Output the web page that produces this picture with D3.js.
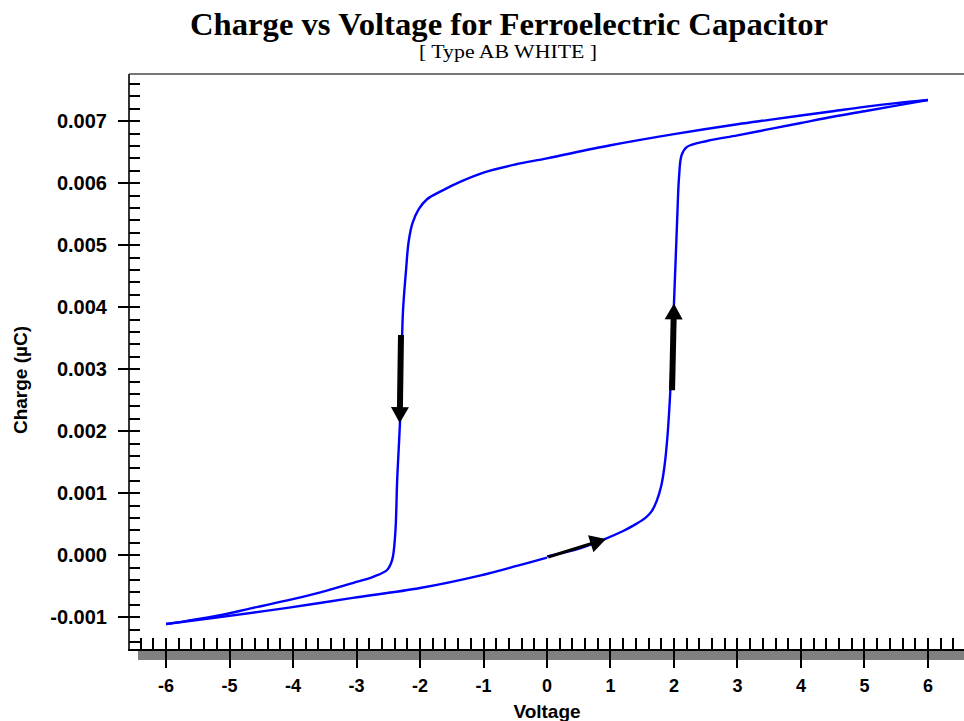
<!DOCTYPE html>
<head>
<meta charset="utf-8">
<title>Charge vs Voltage for Ferroelectric Capacitor</title>
<script src="https://d3js.org/d3.v7.min.js"></script>
<style>
body {
  margin: 0;
  background: #fff;
}
svg {
  display: block;
  font-family: "Liberation Sans", Arial, sans-serif;
}
.title {
  font-family: "Liberation Serif", "Times New Roman", serif;
  font-weight: bold;
}
.subtitle {
  font-family: "Liberation Serif", "Times New Roman", serif;
}
.tick-label, .axis-title {
  font-weight: bold;
  fill: #000;
}
.loop {
  fill: none;
  stroke: #0000ff;
  stroke-width: 2.4px;
}
</style>
</head>
<body>
<script>

// --- data (voltage in V, charge in µC) ---
// rising branch: 0 V -> +6 V
const risingV = [0, 0.52, 0.91, 1.20, 1.40, 1.55, 1.65, 1.73, 1.80, 1.85, 1.90, 1.95, 2.00, 2.05, 2.08, 2.12, 2.20, 2.52, 3.0, 3.5, 4.0, 4.5, 5.0, 5.5, 6.0];
const risingQ = [-0.00002, 0.00011, 0.00026, 0.00039, 0.00050, 0.00060, 0.00071, 0.00088, 0.00112, 0.00143, 0.00195, 0.00280, 0.00406, 0.00540, 0.00610, 0.00645, 0.00658, 0.00668, 0.00677, 0.00687, 0.00697, 0.00707, 0.00716, 0.00725, 0.00734];

// falling branch: +6 V -> -6 V
const fallingV = [6.0, 5.5, 5.0, 4.5, 4.0, 3.5, 3.0, 2.0, 1.0, 0, -0.5, -1.0, -1.37, -1.65, -1.89, -2.02, -2.12, -2.18, -2.22, -2.27, -2.31, -2.36, -2.39, -2.44, -2.52, -2.74, -3.06, -3.57, -4.09, -4.63, -5.15, -5.67, -6.0];
const fallingQ = [0.00734, 0.00729, 0.00723, 0.00716, 0.00709, 0.00702, 0.00695, 0.00679, 0.00661, 0.00640, 0.00630, 0.00617, 0.00602, 0.00588, 0.00574, 0.00558, 0.00535, 0.00505, 0.00460, 0.00390, 0.00229, 0.00121, 0.00035, -0.00008, -0.00024, -0.00035, -0.00045, -0.00060, -0.00073, -0.00085, -0.00097, -0.00106, -0.00111];

// return branch: -6 V -> 0 V
const returnV = [-6.0, -5.15, -4.09, -3.06, -2.0, -1.06, -0.43, 0];
const returnQ = [-0.00111, -0.00100, -0.00085, -0.00069, -0.00053, -0.00033, -0.00016, -0.00004];

// direction arrows [fromV, fromQ, toV, toQ, shaft width]
const arrows = [
  [-2.30, 0.00355, -2.32, 0.00213, 6],
  [1.97, 0.00266, 2.00, 0.00406, 6],
  [0.02, -0.00003, 0.93, 0.00026, 3]
];

const xTicks = [-6, -5, -4, -3, -2, -1, 0, 1, 2, 3, 4, 5, 6];
const yTicks = [-0.001, 0, 0.001, 0.002, 0.003, 0.004, 0.005, 0.006, 0.007];

const titleText = "Charge vs Voltage for Ferroelectric Capacitor";
const subtitleText = "[ Type AB WHITE ]";
const xTitle = "Voltage";
const yTitle = "Charge (\u00b5C)";

// --- layout ---
const width = 964,
  height = 721,
  plot = {left: 128, right: 966, top: 74, bottom: 650};

const x = d3.scaleLinear().domain([-6.6, 6.6]).range([plot.left, plot.right]);
const y = d3.scaleLinear().domain([-0.00153, 0.00776]).range([plot.bottom, plot.top]);

const svg = d3.select('body').append('svg')
  .attr('width', width)
  .attr('height', height);

// titles
svg.append('text')
  .attr('class', 'title')
  .attr('x', 509)
  .attr('y', 35)
  .attr('text-anchor', 'middle')
  .attr('textLength', 638)
  .attr('lengthAdjust', 'spacingAndGlyphs')
  .style('font-size', '32px')
  .text(titleText);

svg.append('text')
  .attr('class', 'subtitle')
  .attr('x', 508)
  .attr('y', 58)
  .attr('text-anchor', 'middle')
  .attr('textLength', 178)
  .attr('lengthAdjust', 'spacingAndGlyphs')
  .style('font-size', '19px')
  .text(subtitleText);

// frame
svg.append('line')
  .attr('x1', plot.left + 1).attr('x2', width)
  .attr('y1', plot.top).attr('y2', plot.top)
  .attr('stroke', '#777').attr('stroke-width', 2);

svg.append('rect')
  .attr('x', 138).attr('y', plot.bottom + 1)
  .attr('width', width - 138).attr('height', 9)
  .attr('fill', '#808080');

svg.append('line')
  .attr('x1', plot.left + 1).attr('x2', plot.left + 1)
  .attr('y1', plot.top).attr('y2', plot.bottom)
  .attr('stroke', '#333').attr('stroke-width', 2);

svg.append('line')
  .attr('x1', plot.left).attr('x2', width)
  .attr('y1', plot.bottom).attr('y2', plot.bottom)
  .attr('stroke', '#000').attr('stroke-width', 2);

// y ticks
const yMinor = d3.range(-14, 77, 2).map(d => d / 10000);
svg.append('g').selectAll('line')
  .data(yMinor)
  .join('line')
    .attr('x1', plot.left + 1)
    .attr('x2', plot.left + 12)
    .attr('y1', d => Math.round(y(d)))
    .attr('y2', d => Math.round(y(d)))
    .attr('stroke', '#000').attr('stroke-width', 2);

svg.append('g').selectAll('line')
  .data(yTicks)
  .join('line')
    .attr('x1', plot.left - 10)
    .attr('x2', plot.left + 12)
    .attr('y1', d => Math.round(y(d)))
    .attr('y2', d => Math.round(y(d)))
    .attr('stroke', '#000').attr('stroke-width', 2);

svg.append('g').selectAll('text')
  .data(yTicks)
  .join('text')
    .attr('class', 'tick-label')
    .attr('x', 107)
    .attr('y', d => y(d) + 7)
    .attr('text-anchor', 'end')
    .style('font-size', '20px')
    .text(d => d.toFixed(3));

// x ticks
const xMinor = d3.range(-32, 34).map(d => d / 5);
svg.append('g').selectAll('line')
  .data(xMinor)
  .join('line')
    .attr('x1', d => Math.round(x(d)))
    .attr('x2', d => Math.round(x(d)))
    .attr('y1', plot.bottom - 12)
    .attr('y2', plot.bottom)
    .attr('stroke', '#000').attr('stroke-width', 2);

svg.append('g').selectAll('line')
  .data(xTicks)
  .join('line')
    .attr('x1', d => Math.round(x(d)))
    .attr('x2', d => Math.round(x(d)))
    .attr('y1', plot.bottom - 12)
    .attr('y2', plot.bottom + 18)
    .attr('stroke', '#000').attr('stroke-width', 2);

svg.append('g').selectAll('text')
  .data(xTicks)
  .join('text')
    .attr('class', 'tick-label')
    .attr('x', d => x(d))
    .attr('y', 692)
    .attr('text-anchor', 'middle')
    .style('font-size', '18px')
    .text(d => String(d));

// axis titles
svg.append('text')
  .attr('class', 'axis-title')
  .attr('x', (plot.left + plot.right) / 2)
  .attr('y', 718)
  .attr('text-anchor', 'middle')
  .style('font-size', '19px')
  .text(xTitle);

svg.append('text')
  .attr('class', 'axis-title')
  .attr('transform', 'translate(27,' + 380 + ') rotate(-90)')
  .attr('text-anchor', 'middle')
  .style('font-size', '19px')
  .text(yTitle);

// hysteresis loop
const line = d3.line()
  .x(d => x(d[0]))
  .y(d => y(d[1]))
  .curve(d3.curveCatmullRom.alpha(0.5));

const branches = [
  d3.zip(risingV, risingQ),
  d3.zip(fallingV, fallingQ),
  d3.zip(returnV, returnQ)
];

svg.append('g').selectAll('path')
  .data(branches)
  .join('path')
    .attr('class', 'loop')
    .attr('d', line);

// arrows
const arrowG = svg.append('g').selectAll('g')
  .data(arrows)
  .join('g');

arrowG.each(function(a) {
  const x0 = x(a[0]), y0 = y(a[1]), x1 = x(a[2]), y1 = y(a[3]);
  const len = Math.hypot(x1 - x0, y1 - y0);
  const ang = Math.atan2(y1 - y0, x1 - x0) * 180 / Math.PI;
  const headLen = 16, headW = 9;
  const g = d3.select(this)
    .attr('transform', 'translate(' + x0 + ',' + y0 + ') rotate(' + ang + ')');
  g.append('line')
    .attr('x1', 0).attr('y1', 0)
    .attr('x2', len - headLen + 1).attr('y2', 0)
    .attr('stroke', '#000').attr('stroke-width', a[4]);
  g.append('path')
    .attr('d', 'M' + len + ',0L' + (len - headLen) + ',' + (-headW) + 'L' + (len - headLen) + ',' + headW + 'Z')
    .attr('fill', '#000');
});

</script>
</body>
